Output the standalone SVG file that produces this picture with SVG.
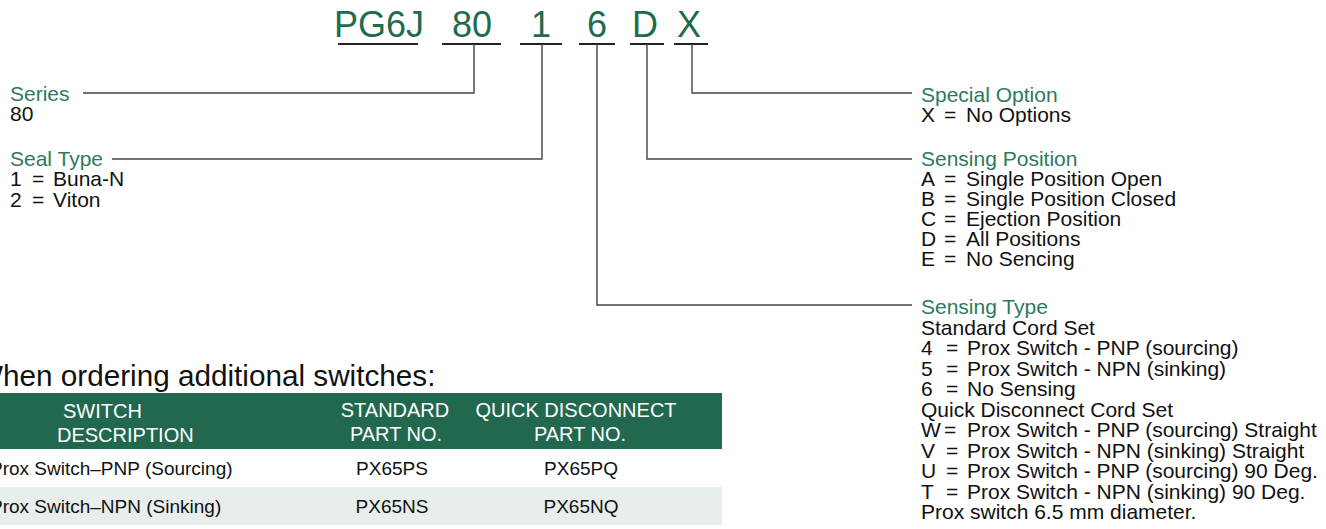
<svg xmlns="http://www.w3.org/2000/svg" width="1326" height="529" viewBox="0 0 1326 529">
<style>
text{font-family:"Liberation Sans",Arial,Helvetica,sans-serif;}
.t{font-size:36px;fill:#1f6b4e;text-anchor:middle;}
.g{font-size:21px;fill:#2d7a5c;}
.b{font-size:21px;fill:#111;}
.ul{stroke:#222;stroke-width:2;fill:none;}
.c{stroke:#444;stroke-width:1.4;fill:none;}
.h{font-size:20px;fill:#fff;}
.hm{font-size:20px;fill:#fff;text-anchor:middle;}
.r{font-size:19px;fill:#111;}
.rm{font-size:19px;fill:#111;text-anchor:middle;}
</style>
<rect width="1326" height="529" fill="#fff"/>
<g id="code">
<text class="t" x="379" y="37">PG6J</text>
<text class="t" x="472" y="37">80</text>
<text class="t" x="541" y="37">1</text>
<text class="t" x="597" y="37">6</text>
<text class="t" x="645" y="37">D</text>
<text class="t" x="689" y="37">X</text>
<path class="ul" d="M338 44H418M442 44H501M520 44H562M579 44H615M630 44H664M674 44H708"/>
</g>
<g id="connectors">
<path class="c" d="M474 44V93H83"/>
<path class="c" d="M542 44V159H112"/>
<path class="c" d="M692 44V93H912"/>
<path class="c" d="M647 44V159H912"/>
<path class="c" d="M597 44V305H912"/>
</g>
<g id="series">
<text class="g" x="10" y="100.5">Series</text>
<text class="b" x="10" y="121">80</text>
</g>
<g id="seal-type">
<text class="g" x="10" y="165.5">Seal Type</text>
<text class="b" y="186"><tspan x="10">1</tspan><tspan x="32">=</tspan><tspan x="53">Buna-N</tspan></text>
<text class="b" y="206.5"><tspan x="10">2</tspan><tspan x="32">=</tspan><tspan x="53">Viton</tspan></text>
</g>
<g id="special-option">
<text class="g" x="921" y="101.5">Special Option</text>
<text class="b" y="122"><tspan x="921">X</tspan><tspan x="944">=</tspan><tspan x="966">No Options</tspan></text>
</g>
<g id="sensing-position">
<text class="g" x="921" y="166">Sensing Position</text>
<text class="b" y="186"><tspan x="921">A</tspan><tspan x="944">=</tspan><tspan x="966">Single Position Open</tspan></text>
<text class="b" y="206"><tspan x="921">B</tspan><tspan x="944">=</tspan><tspan x="966">Single Position Closed</tspan></text>
<text class="b" y="226"><tspan x="921">C</tspan><tspan x="944">=</tspan><tspan x="966">Ejection Position</tspan></text>
<text class="b" y="246"><tspan x="921">D</tspan><tspan x="944">=</tspan><tspan x="966">All Positions</tspan></text>
<text class="b" y="266"><tspan x="921">E</tspan><tspan x="944">=</tspan><tspan x="966">No Sencing</tspan></text>
</g>
<g id="sensing-type">
<text class="g" x="921" y="314">Sensing Type</text>
<text class="b" x="921" y="334.5">Standard Cord Set</text>
<text class="b" y="355"><tspan x="921">4</tspan><tspan x="946">=</tspan><tspan x="967">Prox Switch - PNP (sourcing)</tspan></text>
<text class="b" y="375.5"><tspan x="921">5</tspan><tspan x="946">=</tspan><tspan x="967">Prox Switch - NPN (sinking)</tspan></text>
<text class="b" y="396"><tspan x="921">6</tspan><tspan x="946">=</tspan><tspan x="967">No Sensing</tspan></text>
<text class="b" x="921" y="416.5">Quick Disconnect Cord Set</text>
<text class="b" y="437"><tspan x="921">W</tspan><tspan x="944">=</tspan><tspan x="967">Prox Switch - PNP (sourcing) Straight</tspan></text>
<text class="b" y="457.5"><tspan x="921">V</tspan><tspan x="946">=</tspan><tspan x="967">Prox Switch - NPN (sinking) Straight</tspan></text>
<text class="b" y="478"><tspan x="921">U</tspan><tspan x="946">=</tspan><tspan x="967">Prox Switch - PNP (sourcing) 90 Deg.</tspan></text>
<text class="b" y="498.5"><tspan x="921">T</tspan><tspan x="946">=</tspan><tspan x="967">Prox Switch - NPN (sinking) 90 Deg.</tspan></text>
<text class="b" x="921" y="519">Prox switch 6.5 mm diameter.</text>
</g>
<g id="switch-table">
<text x="-25" y="386" font-size="29.7" fill="#111">When ordering additional switches:</text>
<rect x="0" y="393" width="722" height="56" fill="#21684f"/>
<rect x="0" y="487" width="722" height="38" fill="#e8eeeb"/>
<text class="h" x="63" y="418">SWITCH</text>
<text class="h" x="57" y="442">DESCRIPTION</text>
<text class="hm" x="395" y="417">STANDARD</text>
<text class="hm" x="396" y="441">PART NO.</text>
<text class="hm" x="576" y="417">QUICK DISCONNECT</text>
<text class="hm" x="580" y="441">PART NO.</text>
<text class="r" x="-10" y="475">Prox Switch–PNP (Sourcing)</text>
<text class="rm" x="392" y="475">PX65PS</text>
<text class="rm" x="581" y="475">PX65PQ</text>
<text class="r" x="-10" y="513">Prox Switch–NPN (Sinking)</text>
<text class="rm" x="392" y="513">PX65NS</text>
<text class="rm" x="581" y="513">PX65NQ</text>
</g>
</svg>
